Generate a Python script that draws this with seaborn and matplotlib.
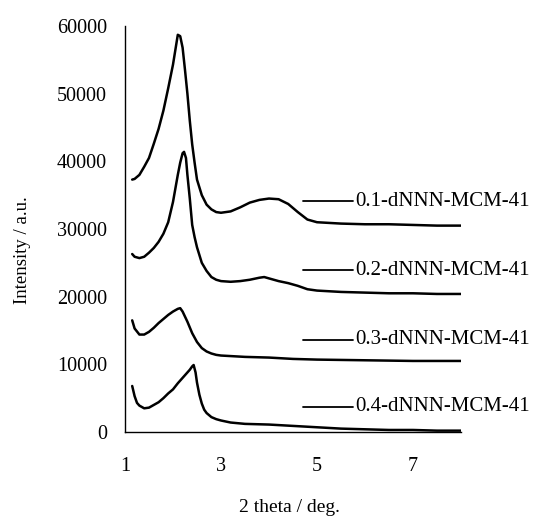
import matplotlib
matplotlib.use("Agg")
import matplotlib.pyplot as plt
import seaborn as sns
import pandas as pd

# ---- data ----
labels = ["0.1-dNNN-MCM-41", "0.2-dNNN-MCM-41", "0.3-dNNN-MCM-41", "0.4-dNNN-MCM-41"]

x1 = [1.15, 1.2, 1.3, 1.4, 1.5, 1.6, 1.7, 1.8, 1.9, 2.0, 2.05, 2.1, 2.15, 2.2, 2.25, 2.3, 2.35, 2.4, 2.45, 2.5,
      2.6, 2.7, 2.8, 2.9, 3.0, 3.2, 3.4, 3.6, 3.8, 4.0, 4.2, 4.4, 4.6, 4.8, 5.0, 5.5, 6.0, 6.5, 7.0, 7.5, 8.0]
y1 = [37300, 37400, 38000, 39200, 40500, 42600, 44800, 47500, 50800, 54300, 56500, 58700, 58500, 56800, 53500,
      50000, 46000, 42500, 39800, 37300, 35000, 33600, 32900, 32500, 32400, 32600, 33200, 33900, 34300, 34500,
      34400, 33700, 32500, 31400, 31000, 30800, 30700, 30700, 30600, 30500, 30500]

x2 = [1.15, 1.2, 1.3, 1.4, 1.5, 1.6, 1.7, 1.8, 1.9, 2.0, 2.05, 2.1, 2.15, 2.2, 2.23, 2.27, 2.3, 2.35, 2.4, 2.45,
      2.5, 2.6, 2.7, 2.8, 2.9, 3.0, 3.2, 3.4, 3.6, 3.8, 3.9, 4.0, 4.2, 4.4, 4.6, 4.8, 5.0, 5.5, 6.0, 6.5, 7.0,
      7.5, 8.0]
y2 = [26300, 25900, 25700, 25900, 26500, 27200, 28100, 29300, 31000, 34000, 36000, 38000, 39800, 41200, 41400,
      40500, 38000, 34500, 30600, 28800, 27300, 25000, 23800, 22900, 22500, 22300, 22200, 22300, 22500, 22800,
      22900, 22700, 22300, 22000, 21600, 21100, 20900, 20700, 20600, 20500, 20500, 20400, 20400]

x3 = [1.15, 1.2, 1.3, 1.4, 1.5, 1.6, 1.7, 1.8, 1.9, 2.0, 2.1, 2.15, 2.2, 2.3, 2.4, 2.5, 2.6, 2.7, 2.8, 2.9, 3.0,
      3.5, 4.0, 4.5, 5.0, 6.0, 7.0, 8.0]
y3 = [16500, 15300, 14400, 14400, 14800, 15400, 16100, 16700, 17300, 17800, 18200, 18300, 17800, 16300, 14600,
      13300, 12400, 11900, 11600, 11400, 11300, 11100, 11000, 10800, 10700, 10600, 10500, 10500]

x4 = [1.15, 1.2, 1.25, 1.3, 1.4, 1.5, 1.6, 1.7, 1.8, 1.9, 2.0, 2.1, 2.2, 2.3, 2.35, 2.4, 2.43, 2.47, 2.5, 2.55,
      2.6, 2.65, 2.7, 2.8, 2.9, 3.0, 3.2, 3.5, 4.0, 4.5, 5.0, 5.5, 6.0, 6.5, 7.0, 7.5, 8.0]
y4 = [6800, 5300, 4300, 3900, 3500, 3600, 4000, 4400, 5000, 5700, 6300, 7200, 8000, 8800, 9200, 9700, 9900, 8800,
      7300, 5500, 4200, 3300, 2800, 2200, 1900, 1700, 1400, 1200, 1100, 900, 700, 500, 400, 300, 300, 200, 200]

label_y = [34100, 23900, 13600, 3700]

x_ticks = [1, 3, 5, 7]
y_ticks = [0, 10000, 20000, 30000, 40000, 50000, 60000]

# ---- plotting ----
sns.set_theme(style="white")
plt.rcParams["font.family"] = ["Liberation Serif", "DejaVu Serif"]

fig = plt.figure(figsize=(5.46, 5.2), dpi=100)
ax = fig.add_axes([125 / 546, 88 / 520, 336 / 546, 406 / 520])

frames = []
for lab, xs, ys in zip(labels, [x1, x2, x3, x4], [y1, y2, y3, y4]):
    frames.append(pd.DataFrame({"theta": xs, "intensity": ys, "sample": lab}))
df = pd.concat(frames, ignore_index=True)

sns.lineplot(data=df, x="theta", y="intensity", hue="sample", units="sample", estimator=None,
             palette=["black"] * 4, linewidth=1.8, legend=False, ax=ax, sort=False)

for lab, ly in zip(labels, label_y):
    ax.plot([4.71, 5.75], [ly, ly], color="black", linewidth=1.3, clip_on=False)
    ax.text(5.8, ly, lab, fontsize=15, va="center", ha="left", color="black", clip_on=False)

ax.set_xlim(1, 8)
ax.set_ylim(0, 60000)
ax.set_xticks(x_ticks)
ax.set_yticks(y_ticks)
ax.set_xticklabels([str(v) for v in x_ticks])
ax.set_yticklabels([str(v) for v in y_ticks])

for side in ["top", "right"]:
    ax.spines[side].set_visible(False)
for side in ["left", "bottom"]:
    ax.spines[side].set_color("black")
    ax.spines[side].set_linewidth(1.0)

ax.tick_params(axis="both", direction="in", length=5, width=1, colors="black", labelsize=14.5)
ax.tick_params(axis="x", pad=18)
ax.tick_params(axis="y", pad=13)

ax.set_xlabel("2 theta / deg.", fontsize=14, color="black")
ax.set_ylabel("Intensity / a.u.", fontsize=13.5, color="black")
ax.xaxis.set_label_coords(0.488, -0.187)
ax.yaxis.set_label_coords(-0.305, 0.448)
ax.xaxis.label.set_va("center")
ax.yaxis.label.set_va("center")

fig.savefig("out.png", dpi=100, facecolor="white")
